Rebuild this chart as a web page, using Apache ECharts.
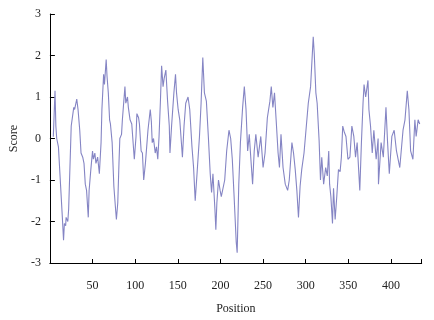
<!DOCTYPE html>
<html>
<head>
<meta charset="utf-8">
<script src="https://cdn.jsdelivr.net/npm/echarts@6/dist/echarts.min.js"></script>
<style>html,body{margin:0;padding:0;background:#fff}#c{width:434px;height:320px}</style>
</head>
<body>
<div id="c"></div>
<script>
const positions = [4,6,7,8,10,11.5,14.6,16,17,18.5,19,21,22,25,28,29,31.5,33,35,36.5,38.5,40,41.5,43,45,46,48,50,51,52.7,54,56,58,60,61,63,64,66,67,68.5,70,71,73,75,77,78,79.6,81,82,84,85,88,89,91,92,94,96,99,101,102,104,105,107,108.5,110,112,115,117.7,119,120,121.5,123.5,125,126.5,128,129.6,131,132.7,134,136,138,140,140.8,142.7,145.4,147.3,148.5,150.4,152.3,155.4,157.3,159.3,162,164,166.6,168.5,170.4,172.7,175.4,177.3,179.3,181.2,183.5,185.8,188,189.6,191.2,193.5,194.6,195.8,197.7,199.6,201,205,207.3,210,212,213.9,215.8,218.5,219.6,221.5,223.4,226,228,230,231.9,233.8,235.7,237.7,239.6,241.5,244.2,247.3,250,252.3,255,258,259.6,261.5,263.4,265.3,267.6,269.2,271,273.4,276,278.8,280.7,283.8,285.7,287.7,289.6,291.5,293.4,295.3,298,303,305.7,308.8,310,311.9,313.4,315.7,317.3,318.8,321,323.4,325.3,327,328,329.5,331.4,332.6,334.5,336.4,338.4,340.3,341.8,343.4,345.3,347.2,349.5,351.8,354.1,356.4,358.4,360.3,363.4,365.3,367.2,368.4,370.3,373,374.1,376,378,379.9,382.6,384.9,385.3,388.4,391,394.1,396,398,401,403.7,406.4,410.3,414.1,416.4,419.1,421,423,425.7,428,429.5,431.8,433.7];
const scores = [0.04,1.15,0.3,0.0,-0.2,-0.2,-1.9,-2.45,-2.05,-2.1,-1.9,-2.0,-1.7,0.3,0.75,0.7,0.95,0.7,0.2,-0.35,-0.45,-0.6,-1.1,-1.25,-1.9,-1.25,-0.75,-0.3,-0.5,-0.35,-0.6,-0.45,-0.85,-0.1,0.7,1.55,1.3,1.9,1.5,1.1,0.45,0.35,-0.1,-1.15,-1.7,-1.95,-1.55,-0.6,0,0.1,0.45,1.25,0.85,1.0,0.75,0.45,0.35,-0.5,0.05,0.6,0.5,0.35,-0.3,-0.35,-1.0,-0.6,0.2,0.7,0.4,-0.1,0.0,-0.35,-0.2,-0.5,0.05,0.9,1.75,1.25,1.45,1.65,0.9,0.3,-0.35,0.3,1.1,1.55,1.1,0.7,0.45,-0.45,0.3,0.85,1.0,0.7,-0.2,-0.7,-1.5,-0.8,0.05,0.85,1.95,1.1,0.9,0.05,-0.85,-1.3,-0.85,-1.7,-2.2,-1.55,-1.0,-1.25,-1.4,-1.0,-0.3,0.2,0.0,-0.5,-1.3,-2.5,-2.75,-1.1,-0.1,0.75,1.25,0.7,-0.3,0.1,-0.5,-1.1,-0.3,0.1,-0.45,0.05,-0.7,-0.35,0.5,0.9,1.25,0.75,1.1,0.45,-0.35,-0.7,0.1,-0.7,-1.1,-1.25,-1.0,-0.1,-0.35,-0.75,-1.25,-1.9,-1.15,-0.75,-0.35,0.85,1.25,2.45,2.05,1.1,0.85,-0.05,-1.0,-0.45,-1.1,-0.7,-0.9,-0.3,-1.1,-1.4,-2.05,-1.2,-1.95,-1.4,-0.75,-0.8,-0.45,0.3,0.15,0.05,-0.5,-0.45,0.3,0.05,-0.45,-0.1,-1.25,-0.1,0.85,1.3,1.0,1.4,0.7,0.3,-0.35,0.2,-0.5,0,-1.1,-0.1,-0.45,0.75,-0.1,-0.85,0.05,0.2,-0.3,-0.7,0.2,0.45,1.15,0.7,-0.3,-0.5,0.45,0.05,0.45,0.35];
const xTicks = [50,100,150,200,250,300,350,400];
const yTicks = [-3,-2,-1,0,1,2,3];

const chart = echarts.init(document.getElementById('c'), null, {renderer:'canvas'});
const font = 'Liberation Serif';
chart.setOption({
  animation:false,
  grid:{left:43.3,right:12.3,top:14,bottom:56.7,containLabel:false},
  xAxis:{type:'value',min:0,max:436,interval:50,
    name:'Position',nameLocation:'middle',nameGap:40,
    nameTextStyle:{fontFamily:font,fontSize:12,color:'#222'},
    axisLine:{show:true,onZero:false,lineStyle:{color:'#000',width:1}},
    axisTick:{show:true,inside:true,length:4,lineStyle:{color:'#000'}},
    axisLabel:{fontFamily:font,fontSize:12,color:'#222',margin:17,
      formatter:v=>xTicks.includes(v)?String(v):''},
    splitLine:{show:false}},
  yAxis:{type:'value',min:-3,max:3,interval:1,
    name:'Score',nameLocation:'middle',nameGap:24,nameRotate:90,
    nameTextStyle:{fontFamily:font,fontSize:12,color:'#222'},
    axisLine:{show:true,onZero:false,lineStyle:{color:'#000',width:1}},
    axisTick:{show:true,inside:true,length:5,lineStyle:{color:'#000'}},
    axisLabel:{fontFamily:font,fontSize:12,color:'#222',margin:9,
      formatter:v=>yTicks.includes(v)?String(v):''},
    splitLine:{show:false}},
  series:[{type:'line',data:positions.map((p,i)=>[p,scores[i]]),
    showSymbol:false,smooth:false,
    lineStyle:{color:'#8585c4',width:1.1}}]
});
</script>
</body>
</html>
